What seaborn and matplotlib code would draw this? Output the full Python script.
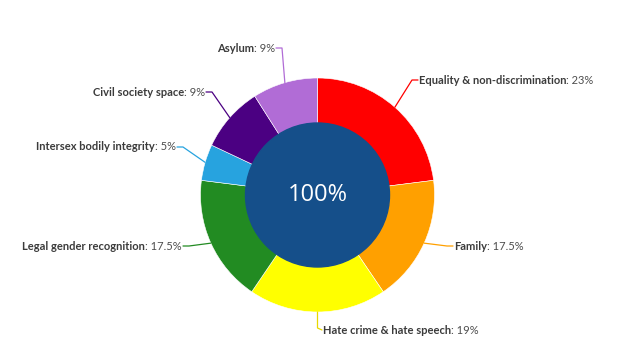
import matplotlib
matplotlib.use("Agg")
import matplotlib.pyplot as plt
import seaborn as sns
import numpy as np
from matplotlib.patches import Circle

# ---- data ----
categories = ["Equality & non-discrimination", "Family", "Hate crime & hate speech",
              "Legal gender recognition", "Intersex bodily integrity",
              "Civil society space", "Asylum"]
values = [23, 17.5, 19, 17.5, 5, 9, 9]
value_labels = ["23%", "17.5%", "19%", "17.5%", "5%", "9%", "9%"]
center_label = "100%"

# ---- style ----
colors = ["#ff0000", "#ffa000", "#ffff00", "#228b22", "#27a3df", "#4b0082", "#b16cd6"]
# label anchor (pixel coords, y from top) and side
label_pos = [(418, 80, "left"), (453, 246, "left"), (322, 330, "left"),
             (183, 246, "right"), (177, 147, "right"), (206, 92, "right"), (276, 48, "right")]

W, H = 630, 355
sns.set_theme(style="white")
plt.rcParams["font.family"] = ["Lato", "DejaVu Sans"]

fig = plt.figure(figsize=(W / 100, H / 100), dpi=100)
ax = fig.add_axes([0, 0, 1, 1])
cx, cy = 317.5, H - 195
R_out, R_in = 117, 72

wedges, _ = ax.pie(values, colors=colors, startangle=90, counterclock=False,
                   radius=R_out, center=(cx, cy),
                   wedgeprops=dict(edgecolor="white", linewidth=0.4))
ax.add_patch(Circle((cx, cy), R_in, facecolor="#154f8a", edgecolor="#154f8a", zorder=5))
ax.text(cx, cy, center_label, color="white", fontsize=17, ha="center", va="center",
        zorder=6, family=["Open Sans", "DejaVu Sans"])

for w, name, val, (lx, ly, side), col in zip(wedges, categories, value_labels, label_pos, colors):
    ang = np.deg2rad((w.theta1 + w.theta2) / 2)
    ex, ey = cx + R_out * np.cos(ang), cy + R_out * np.sin(ang)
    py = H - ly
    bx = lx - 6 if side == "left" else lx + 6
    if name.startswith("Hate"):
        xs, ys = [ex, ex, lx], [ey, py + 2, py]
    else:
        xs, ys = [ex, bx, lx], [ey, py, py]
    ax.plot(xs, ys, color=col if col != "#ffff00" else "#e8d800", lw=0.9, zorder=1)
    if side == "left":
        t1 = ax.text(lx + 1, py, name, ha="left", va="center", fontsize=8,
                     fontweight="bold", color="#3b3b3b")
        ax.annotate(": " + val, xy=(1, 0.5), xycoords=t1, ha="left", va="center",
                    fontsize=8, color="#4d4d4d")
    else:
        t1 = ax.text(lx - 1, py, ": " + val, ha="right", va="center", fontsize=8,
                     color="#4d4d4d")
        ax.annotate(name, xy=(0, 0.5), xycoords=t1, ha="right", va="center",
                    fontsize=8, fontweight="bold", color="#3b3b3b")

ax.set_xlim(0, W)
ax.set_ylim(0, H)
ax.set_aspect("auto")
ax.axis("off")
fig.savefig("out.png", dpi=100)
